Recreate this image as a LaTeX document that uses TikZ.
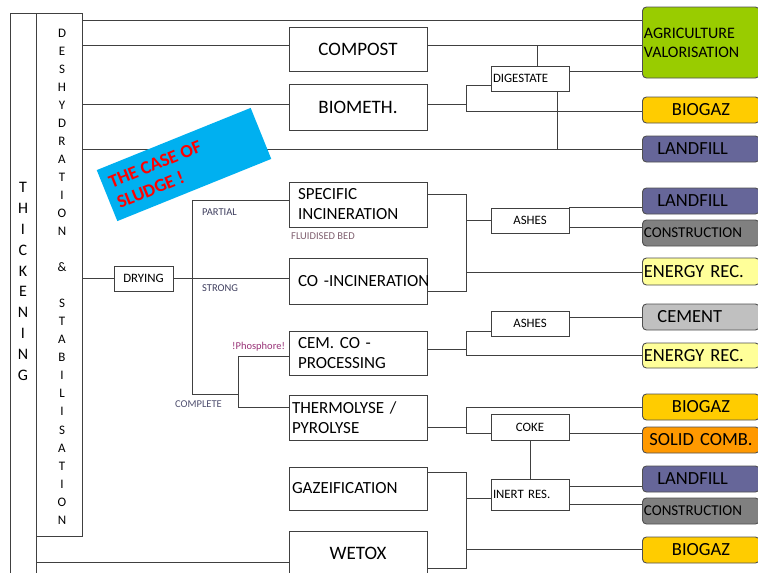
\documentclass[tikz,border=0pt]{standalone}
\usepackage{fontspec}
\setmainfont{Carlito}
\definecolor{lnc}{HTML}{404040}
\definecolor{rbc}{HTML}{505050}
\definecolor{agric}{HTML}{99CC00}
\definecolor{biogc}{HTML}{FFCC00}
\definecolor{landc}{HTML}{666699}
\definecolor{constc}{HTML}{808080}
\definecolor{energc}{HTML}{FFFF99}
\definecolor{cemc}{HTML}{C0C0C0}
\definecolor{solidc}{HTML}{FF9900}
\definecolor{bannerc}{HTML}{00B0F0}
\definecolor{slate}{HTML}{404060}
\definecolor{slate2}{HTML}{505070}
\definecolor{mauve}{HTML}{993377}
\definecolor{mauve2}{HTML}{806070}
\begin{document}
\begin{tikzpicture}[x=1pt,y=-1pt,
  ln/.style={draw=lnc, line width=0.9pt},
  frame/.style={draw=lnc, line width=0.9pt, inner sep=0pt},
  cbox/.style={draw=lnc, line width=0.9pt, fill=white, minimum width=138pt, minimum height=44pt,
    text width=128pt, inner xsep=5pt, inner ysep=0pt, font=\fontsize{17}{20}\selectfont},
  cbig/.style={cbox, align=center, font=\fontsize{19}{22}\selectfont},
  cboxl/.style={cbox, align=left, text width=120pt, inner xsep=9pt},
  cboxl2/.style={cbox, align=left, text width=132pt, inner xsep=3pt},
  sbox/.style={draw=lnc, line width=0.9pt, fill=white, minimum width=78pt, minimum height=25pt,
    text width=74pt, inner xsep=2pt, inner ysep=0pt, font=\fontsize{12.8}{14}\selectfont},
  rbox/.style={rounded corners=4pt, draw=rbc, line width=0.9pt, anchor=west, minimum width=117pt,
    minimum height=26pt, text width=114pt, inner xsep=1.5pt, inner ysep=0pt, align=left,
    font=\fontsize{18.5}{21}\selectfont},
  lbl/.style={anchor=west, inner sep=1pt, font=\fontsize{10.5}{12}\selectfont}
]
\clip (0,0) rectangle (758,573);
\fill[white] (0,0) rectangle (758,573);

% left frames
\node[frame, minimum width=26pt, minimum height=587pt] (thick) at (23,306.5) {};
\node[frame, minimum width=46pt, minimum height=523.7pt] (desh) at (59,274.85) {};
\node[align=center, inner sep=0pt, font=\fontsize{16}{20.8}\selectfont] (thicktxt) at (23,281.5)
  {T\\H\\I\\C\\K\\E\\N\\I\\N\\G};
\node[align=center, inner sep=0pt, font=\fontsize{13}{18.04}\selectfont] (deshtxt) at (62,276.5)
  {D\\E\\S\\H\\Y\\D\\R\\A\\T\\I\\O\\N\\\mbox{}\\\&\\\mbox{}\\S\\T\\A\\B\\I\\L\\I\\S\\A\\T\\I\\O\\N};

% drying
\node[sbox, align=center, minimum width=59pt, text width=55pt] (drying) at (143.5,278.5) {DRYING};

% process column
\node[cbig] (compost) at (358,49) {COMPOST};
\node[cbig, minimum height=46pt] (biometh) at (358,107) {BIOMETH.};
\node[cboxl, minimum height=45pt] (specinc) at (358,204.5) {SPECIFIC\\INCINERATION};
\node[cboxl, minimum height=46pt] (coinc) at (358,281) {\mbox{CO -INCINERATION}};
\node[cboxl] (cemco) at (358,353) {CEM. CO -\\PROCESSING};
\node[cboxl2, minimum height=45pt] (thermo) at (358,417.5) {THERMOLYSE /\\PYROLYSE};
\node[cboxl2, minimum height=43pt] (gazei) at (358,488.5) {GAZEIFICATION};
\node[cbig] (wetox) at (358,553) {WETOX};

% intermediate products
\node[sbox, align=left] (digestate) at (530,78.5) {DIGESTATE};
\node[sbox, align=center] (ashes1) at (530,220.5) {ASHES};
\node[sbox, align=center] (ashes2) at (530,323.5) {ASHES};
\node[sbox, align=center, minimum height=26pt] (coke) at (530,427) {COKE};
\node[sbox, align=left, minimum height=31pt] (inert) at (530,494.5) {INERT RES.};

% outputs
\node[rbox, fill=agric, minimum height=71pt, font=\fontsize{16}{19}\selectfont] (agri) at (642,42.5) {AGRICULTURE\\VALORISATION};
\node[rbox, fill=biogc, align=center] (biogaz1) at (642,110) {BIOGAZ};
\node[rbox, fill=landc] (landfill1) at (642,149) {\hspace*{13.5pt}LANDFILL};
\node[rbox, fill=landc] (landfill2) at (642,201) {\hspace*{13.5pt}LANDFILL};
\node[rbox, fill=constc, font=\fontsize{15}{17}\selectfont] (constr1) at (642,233) {CONSTRUCTION};
\node[rbox, fill=energc, minimum height=27pt] (energy1) at (642,271.5) {ENERGY REC.};
\node[rbox, fill=cemc] (cement) at (642,317) {\hspace*{13.5pt}CEMENT};
\node[rbox, fill=energc, minimum height=25pt] (energy2) at (642,355.5) {ENERGY REC.};
\node[rbox, fill=biogc, align=center] (biogaz2) at (642,407) {BIOGAZ};
\node[rbox, fill=solidc, align=center] (solid) at (642,440) {SOLID COMB.};
\node[rbox, fill=landc] (landfill3) at (642,479) {\hspace*{13.5pt}LANDFILL};
\node[rbox, fill=constc, font=\fontsize{15}{17}\selectfont] (constr2) at (642,511) {CONSTRUCTION};
\node[rbox, fill=biogc, align=center] (biogaz3) at (642,550) {BIOGAZ};

% small labels
\node[lbl, text=slate] (partial) at (201,212) {PARTIAL};
\node[lbl, text=slate] (strong) at (201,288) {STRONG};
\node[lbl, text=slate2] (complete) at (174,404) {COMPLETE};
\node[lbl, text=mauve] (phos) at (231,347) {!Phosphore!};
\node[lbl, text=mauve2] (fluid) at (290,236) {FLUIDISED BED};

% connectors
\draw[ln] (desh.east |- 0,20) -- (agri.west |- 0,20);
\draw[ln] (desh.east |- 0,45) -- (compost.west |- 0,45);
\draw[ln] (compost.east |- 0,45) -- (agri.west |- 0,45);
\draw[ln] (digestate.north -| 537,0) -- (537,45);
\draw[ln] (digestate.east |- 0,71) -- (agri.west |- 0,71);
\draw[ln] (desh.east |- 0,104) -- (biometh.west |- 0,104);
\draw[ln] (biometh.east |- 0,104) -- (466,104);
\draw[ln] (digestate.west |- 0,85) -- (466,85) -- (466,111) -- (biogaz1.west |- 0,111);
\draw[ln] (digestate.south -| 557,0) -- (557,149);
\draw[ln] (desh.east |- 0,149) -- (landfill1.west);
\draw[ln] (desh.east |- drying.west) -- (drying.west);
\draw[ln] (drying.east) -- (coinc.west |- drying.east);
\draw[ln] (specinc.west |- 0,200) -- (192,200) -- (192,394) -- (238,394);
\draw[ln] (cemco.west |- 0,356) -- (238,356) -- (238,407) -- (thermo.west |- 0,407);
\draw[ln] (specinc.east |- 0,194) -- (466,194) -- (466,291) -- (coinc.east |- 0,291);
\draw[ln] (466,220.5) -- (ashes1.west);
\draw[ln] (466,272) -- (energy1.west |- 0,272);
\draw[ln] (ashes1.north east) -- (landfill2.west |- ashes1.north east);
\draw[ln] (ashes1.east |- 0,227) -- (constr1.west |- 0,227);
\draw[ln] (cemco.east |- 0,349) -- (466,349);
\draw[ln] (ashes2.west |- 0,331) -- (466,331) -- (466,355.5) -- (energy2.west);
\draw[ln] (ashes2.east |- 0,317) -- (cement.west);
\draw[ln] (thermo.east |- 0,427) -- (466,427);
\draw[ln] (biogaz2.west) -- (466,407) -- (466,433) -- (coke.west |- 0,433);
\draw[ln] (coke.east |- 0,433) -- (solid.west |- 0,433);
\draw[ln] (coke.south) -- (inert.north);
\draw[ln] (gazei.east |- 0,472) -- (466,472) -- (466,568) -- (wetox.east |- 0,568);
\draw[ln] (466,498) -- (inert.west |- 0,498);
\draw[ln] (466,549) -- (biogaz3.west |- 0,549);
\draw[ln] (inert.east |- 0,486) -- (landfill3.west |- 0,486);
\draw[ln] (inert.east |- 0,504) -- (constr2.west |- 0,504);
\draw[ln] (thick.east |- 0,562) -- (wetox.west |- 0,562);

% banner
\node[fill=bannerc, rotate=22, minimum width=166pt, minimum height=55pt, inner sep=0pt] (banner) at (184,164.5) {};
\node[rotate=22, anchor=west, align=left, text=red, inner sep=0pt,
  font=\bfseries\fontsize{18.5}{22}\selectfont] (bannertxt) at (113.5,193) {THE CASE OF\\SLUDGE !};
\end{tikzpicture}
\end{document}
